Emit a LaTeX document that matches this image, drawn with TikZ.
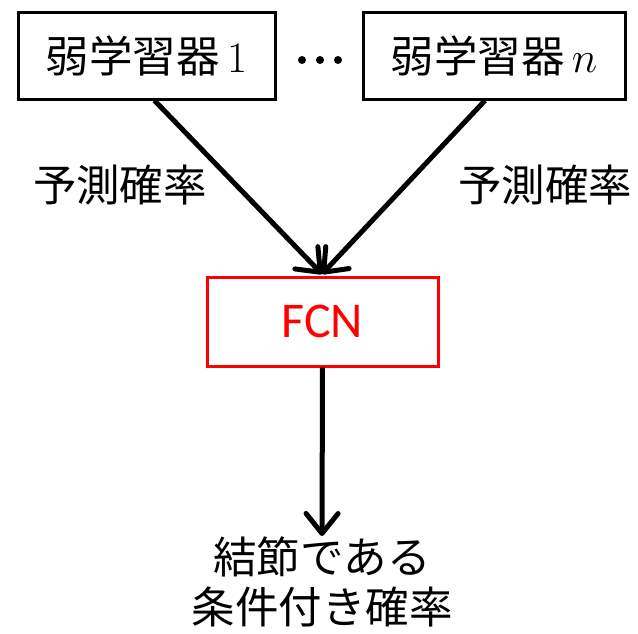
\RequirePackage{fix-cm}
\documentclass[tikz,border=0pt]{standalone}
\usepackage{fontspec}
\newfontfamily\cjk{Noto Sans CJK JP}
\newfontfamily\lat{Carlito}
\usetikzlibrary{arrows.meta}
\begin{document}
\begin{tikzpicture}[x=1pt,y=-1pt,
  box/.style={draw=black,line width=3pt,minimum width=257pt,minimum height=87pt,inner sep=0pt},
  redbox/.style={draw=red,line width=3pt,minimum width=231pt,minimum height=89pt,inner sep=0pt},
  conn/.style={line width=5pt,-{Straight Barb[length=20pt,width=32pt,round]}},
  jp/.style={font=\cjk\fontsize{43.5}{50}\selectfont},
  dot/.style={circle,fill=black,inner sep=0pt,minimum size=8pt}]
\useasboundingbox (0,0) rectangle (638,633);
\node[box,jp] (w1) at (146.5,55.5) {弱学習器\,$1$};
\node[box,jp,minimum width=262pt] (wn) at (494,55.5) {弱学習器\,$n$};
\node[dot] (d1) at (302,60) {};
\node[dot] (d2) at (320,60) {};
\node[dot] (d3) at (338,60) {};
\node[redbox,font=\lat\fontsize{50}{60}\selectfont,text=red] (fcn) at (322.5,321.5) {FCN};
\node[jp] (l1) at (120,185) {予測確率};
\node[jp] (l2) at (545,185) {予測確率};
\node[jp,align=center,inner sep=0pt] (out) at (322,582) {結節である\\条件付き確率};
\coordinate (tip) at (322,536);
\coordinate (top) at (322,274);
\draw[conn] ([xshift=8pt]w1.south) -- (top);
\draw[conn] ([xshift=-9pt]wn.south) -- (top);
\draw[conn] (fcn.south) -- (tip);
\end{tikzpicture}
\end{document}
